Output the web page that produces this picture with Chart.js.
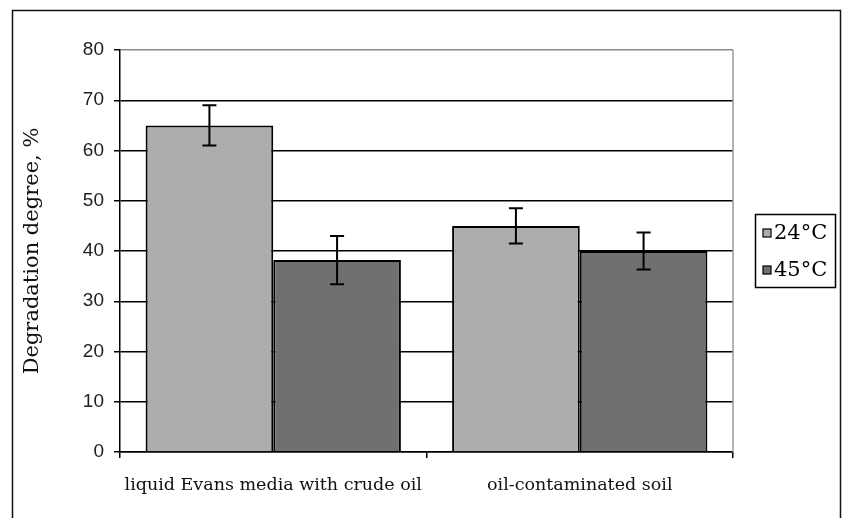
<!DOCTYPE html>
<html>
<head>
<meta charset="utf-8">
<script src="https://cdn.jsdelivr.net/npm/chart.js@4/dist/chart.umd.min.js"></script>
<style>
  html, body { margin: 0; padding: 0; background: #fff; }
  #wrap { width: 842px; height: 518px; position: relative; }
</style>
</head>
<body>
<div id="wrap"><canvas id="c" width="842" height="518"></canvas></div>
<script>
// Categories and series
const categories = ['liquid Evans media with crude oil', 'oil-contaminated soil'];
const seriesNames = ['24°C', '45°C'];
const values24 = [65, 45];
const values45 = [38.2, 40];
// Error bar half-widths (±)
const errors24 = [4, 3.5];
const errors45 = [4.8, 3.7];
// Value axis
const yMin = 0;
const yMax = 80;
const yStep = 10;
const yTitle = 'Degradation degree, %';

const fillColors = ['#adadad', '#707070'];

// Draws the ± whiskers on top of each bar
const errorBars = {
  id: 'errorBars',
  afterDatasetsDraw(chart) {
    const ctx = chart.ctx;
    const y = chart.scales.y;
    ctx.save();
    ctx.strokeStyle = '#000';
    ctx.lineWidth = 2;
    chart.data.datasets.forEach((ds, di) => {
      const meta = chart.getDatasetMeta(di);
      meta.data.forEach((bar, i) => {
        const v = ds.data[i], e = ds.errors[i];
        const top = y.getPixelForValue(v + e);
        const bot = y.getPixelForValue(v - e);
        const half = 7;
        ctx.beginPath();
        ctx.moveTo(bar.x, top); ctx.lineTo(bar.x, bot);
        ctx.moveTo(bar.x - half, top); ctx.lineTo(bar.x + half, top);
        ctx.moveTo(bar.x - half, bot); ctx.lineTo(bar.x + half, bot);
        ctx.stroke();
      });
    });
    ctx.restore();
  }
};

// Outer frame, right plot edge and boxed legend
const decorations = {
  id: 'decorations',
  beforeDraw(chart) {
    const ctx = chart.ctx;
    ctx.save();
    ctx.fillStyle = '#fff';
    ctx.fillRect(0, 0, chart.width, chart.height);
    ctx.restore();
  },
  afterDraw(chart) {
    const ctx = chart.ctx;
    const a = chart.chartArea;
    ctx.save();
    // frame
    ctx.strokeStyle = '#111';
    ctx.lineWidth = 1.5;
    ctx.strokeRect(12.5, 10.5, 828, 520);
    // right edge of plot
    ctx.strokeStyle = '#9a9a9a';
    ctx.lineWidth = 1.5;
    ctx.beginPath();
    ctx.moveTo(a.right, a.top); ctx.lineTo(a.right, a.bottom);
    ctx.stroke();
    // legend
    const lx = 755, ly = 214, lw = 80, lh = 73;
    ctx.strokeStyle = '#000';
    ctx.lineWidth = 1.5;
    ctx.strokeRect(lx + 0.5, ly + 0.5, lw, lh);
    ctx.font = '21px "DejaVu Serif"';
    ctx.textBaseline = 'middle';
    ctx.textAlign = 'left';
    chart.data.datasets.forEach((ds, i) => {
      const cy = ly + 19 + i * 37;
      ctx.fillStyle = ds.backgroundColor;
      ctx.fillRect(763, cy - 4, 8, 8);
      ctx.lineWidth = 1.2;
      ctx.strokeStyle = '#000';
      ctx.strokeRect(763, cy - 4, 8, 8);
      ctx.fillStyle = '#000';
      ctx.fillText(ds.label, 774, cy + 1);
    });
    ctx.restore();
  }
};

new Chart(document.getElementById('c'), {
  type: 'bar',
  data: {
    labels: categories,
    datasets: [
      { label: seriesNames[0], data: values24, errors: errors24,
        backgroundColor: fillColors[0], borderColor: '#000', borderWidth: 2 },
      { label: seriesNames[1], data: values45, errors: errors45,
        backgroundColor: fillColors[1], borderColor: '#000', borderWidth: 2 }
    ]
  },
  options: {
    responsive: false,
    animation: false,
    devicePixelRatio: 1,
    layout: { padding: { left: 0, right: 109, top: 50, bottom: 0 } },
    datasets: { bar: { categoryPercentage: 0.833, barPercentage: 1.0 } },
    plugins: { legend: { display: false }, tooltip: { enabled: false } },
    scales: {
      x: {
        afterFit(s) { s.height = 66; s.paddingLeft = 0; s.paddingRight = 0; },
        grid: { offset: true, drawOnChartArea: false, drawTicks: true, tickLength: 6,
                color: '#000', lineWidth: 1.5 },
        border: { display: true, color: '#000', width: 1.5 },
        ticks: { color: '#111', padding: 17, maxRotation: 0, minRotation: 0, autoSkip: false,
                 font: { family: '"DejaVu Serif"', size: 17.5 } }
      },
      y: {
        min: yMin, max: yMax,
        afterFit(s) { s.width = 120; s.paddingTop = 0; s.paddingBottom = 0; },
        ticks: { stepSize: yStep, color: '#222', padding: 10,
                 font: { family: '"Liberation Sans"', size: 19 } },
        grid: { color: (c) => c.tick && c.tick.value === yMax ? '#8a8a8a' : '#000',
                lineWidth: 1.5, drawTicks: true, tickLength: 6, tickColor: '#000' },
        border: { display: true, color: '#000', width: 1.5 },
        title: { display: true, text: yTitle, color: '#111', padding: { top: 20, bottom: 0 },
                 font: { family: '"DejaVu Serif"', size: 21 } }
      }
    }
  },
  plugins: [errorBars, decorations]
});
</script>
</body>
</html>
